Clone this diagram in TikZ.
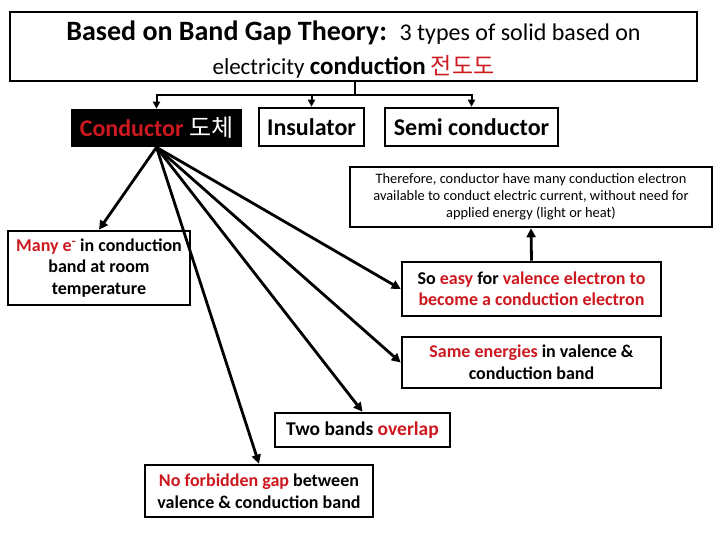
\documentclass[tikz,border=0pt]{standalone}
\usepackage{fontspec}
\setmainfont{Carlito}
\newfontfamily\kr{Noto Sans CJK KR}
\usetikzlibrary{arrows.meta}
\definecolor{hl}{RGB}{204,24,30}
\tikzset{
  box/.style={draw=black, line width=2.6pt, align=center, inner sep=0pt, fill=white},
  conn/.style={line width=2.8pt, -{Triangle[length=9pt,width=9pt]}},
  small/.style={-{Triangle[length=7pt,width=7pt]}, line width=2pt}
}
\newcommand{\hlt}[1]{\textcolor{hl}{#1}}
\begin{document}
\begin{tikzpicture}[x=1pt,y=-1pt]
\useasboundingbox (0,0) rectangle (720,540);
\node[box, minimum width=687pt, minimum height=69pt] (title) at (353.5,46.5) {};
\node[align=center, inner sep=0pt, font=\fontsize{24}{34}\selectfont] (titletext) at ([yshift=-3pt]title.center)
  {{\fontsize{28}{34}\selectfont\bfseries Based on Band Gap Theory:} \ 3 types of solid based on\\
   {\fontsize{23}{34}\selectfont electricity {\fontsize{25}{34}\selectfont\bfseries conduction} {\kr\hlt{전도도}}}};
\node[box, fill=black, minimum width=169pt, minimum height=36pt, font=\fontsize{24}{28}\selectfont] (cond) at (156.5,128)
  {\bfseries\hlt{Conductor} {\mdseries\kr\color{white}도체}};
\node[box, minimum width=105pt, minimum height=38pt, font=\fontsize{24}{28}\selectfont\bfseries] (ins) at (311.5,127)
  {Insulator};
\node[box, minimum width=173pt, minimum height=38pt, font=\fontsize{24}{28}\selectfont\bfseries] (semi) at (471.5,127)
  {Semi conductor};
\node[box, minimum width=362pt, minimum height=60pt, font=\fontsize{14.4}{17}\selectfont] (there) at (531,197)
  {Therefore, conductor have many conduction electron\\available to conduct electric current, without need for\\applied energy (light or heat)};
\node[box, minimum width=182pt, minimum height=74pt, font=\fontsize{18}{21.5}\selectfont\bfseries] (many) at (99,268)
  {\hlt{Many e\textsuperscript{-}} in conduction\\band at room\\temperature};
\node[box, minimum width=259pt, minimum height=54pt, font=\fontsize{18}{21}\selectfont\bfseries] (easy) at (531.5,289)
  {So \hlt{easy} for \hlt{valence electron to}\\\hlt{become a conduction electron}};
\node[box, minimum width=259pt, minimum height=51pt, font=\fontsize{18}{22}\selectfont\bfseries] (same) at (531.5,362.5)
  {\hlt{Same energies} in valence \&\\conduction band};
\node[box, minimum width=175pt, minimum height=34pt, font=\fontsize{19.5}{22}\selectfont\bfseries] (two) at (362.5,430)
  {Two bands \hlt{overlap}};
\node[box, minimum width=228pt, minimum height=52pt, font=\fontsize{18}{22}\selectfont\bfseries] (nf) at (259,491)
  {\hlt{No forbidden gap} between\\valence \& conduction band};
\coordinate (j) at (355,95);
\draw[line width=2pt] (title.south -| j) -- (j);
\draw[small] (j) -| (cond.north);
\draw[small] (j) -| (ins.north);
\draw[small] (j) -| (semi.north);
\draw[conn] (cond.south) -- (many.north);
\draw[conn] (cond.south) -- (easy.west);
\draw[conn] (cond.south) -- (same.west);
\draw[conn] (cond.south) -- (two.north);
\draw[conn] (cond.south) -- (nf.north);
\draw[conn] (easy.north) -- (there.south);
\end{tikzpicture}
\end{document}
